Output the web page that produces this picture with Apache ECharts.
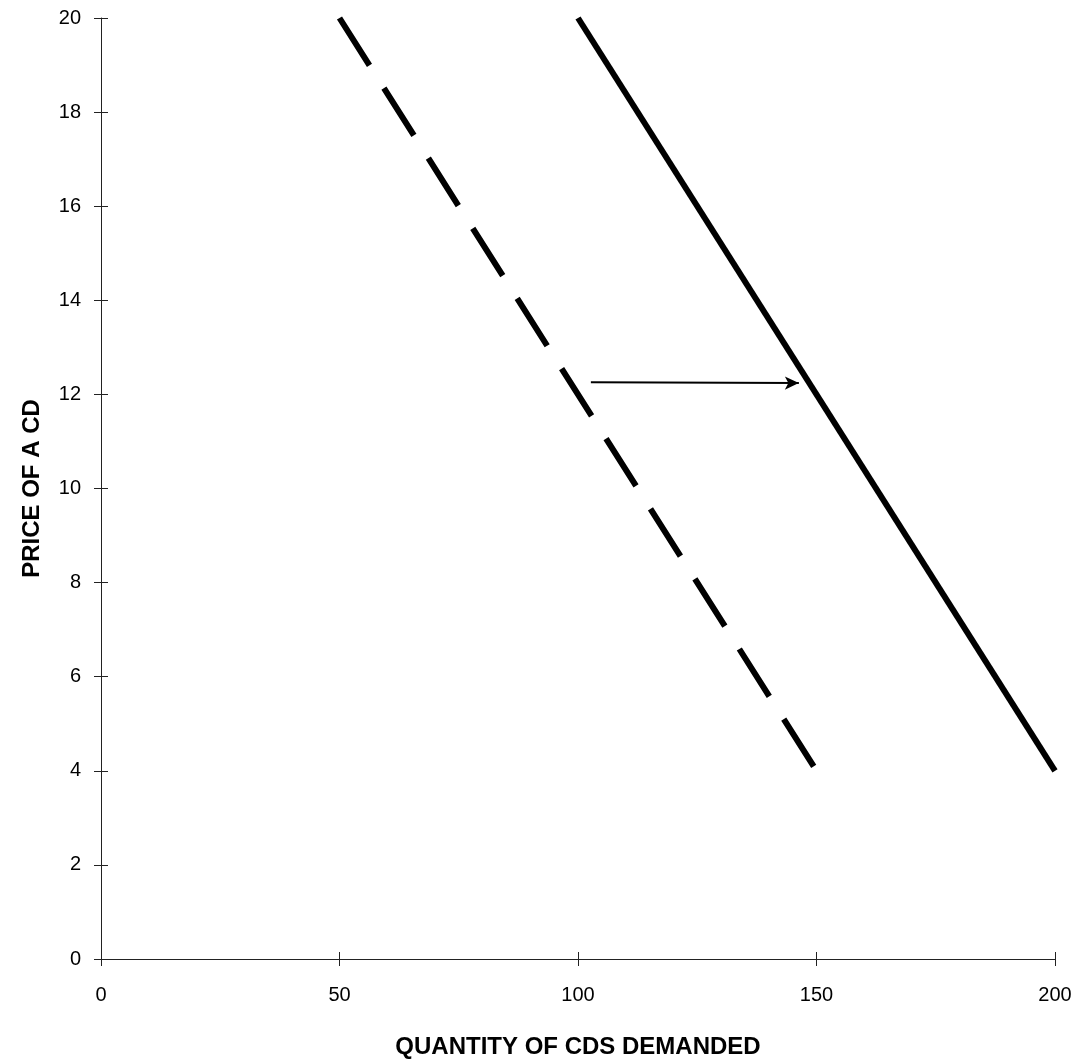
<!DOCTYPE html>
<html>
<head>
<meta charset="utf-8">
<script src="https://cdn.jsdelivr.net/npm/echarts@6/dist/echarts.min.js"></script>
<style>html,body{margin:0;padding:0;background:#fff}#c{width:1078px;height:1064px}</style>
</head>
<body>
<div id="c"></div>
<script>
var xTitle = 'QUANTITY OF CDS DEMANDED';
var yTitle = 'PRICE OF A CD';
var originalDemand = [[50, 20], [150, 4]];   // dashed
var newDemand = [[100, 20], [200, 4]];       // solid
var shiftArrow = [[102.7, 12.26], [146.3, 12.24]];

var chart = echarts.init(document.getElementById('c'), null, {renderer: 'canvas'});
var font = 'Liberation Sans, Arial, sans-serif';
var axisCol = '#222';
function xAx(main) {
  return {
    type: 'value', min: 0, max: 200, interval: 50, position: 'bottom',
    name: main ? xTitle : '', nameLocation: 'middle', nameGap: 76,
    nameTextStyle: {fontFamily: font, fontSize: 24, fontWeight: 'bold', color: '#000'},
    axisLine: {show: main, onZero: false, lineStyle: {color: axisCol, width: 1}},
    axisTick: {show: true, inside: !main, length: 7, lineStyle: {color: axisCol, width: 1}},
    axisLabel: {show: main, margin: 26, fontFamily: font, fontSize: 20, color: '#000'},
    splitLine: {show: false}
  };
}
function yAx(main) {
  return {
    type: 'value', min: 0, max: 20, interval: 2, position: 'left',
    name: main ? yTitle : '', nameLocation: 'middle', nameGap: 57, nameRotate: 90,
    nameTextStyle: {fontFamily: font, fontSize: 24, fontWeight: 'bold', color: '#000'},
    axisLine: {show: main, onZero: false, lineStyle: {color: axisCol, width: 1}},
    axisTick: {show: true, inside: !main, length: 7, lineStyle: {color: axisCol, width: 1}},
    axisLabel: {show: main, margin: 20, fontFamily: font, fontSize: 20, color: '#000'},
    splitLine: {show: false}
  };
}
chart.setOption({
  animation: false,
  backgroundColor: '#fff',
  grid: {left: 101, right: 23, top: 18, bottom: 105, containLabel: false},
  xAxis: [xAx(true), xAx(false)],
  yAxis: [yAx(true), yAx(false)],
  series: [
    {
      type: 'line', data: originalDemand, showSymbol: false, symbol: 'none', clip: false,
      lineStyle: {color: '#000', width: 6, type: [56, 27], cap: 'butt'}
    },
    {
      type: 'line', data: newDemand, showSymbol: false, symbol: 'none', clip: false,
      lineStyle: {color: '#000', width: 6, type: 'solid', cap: 'butt'},
      markLine: {
        silent: true, symbol: ['none', 'arrow'], symbolSize: [10, 14],
        label: {show: false},
        lineStyle: {color: '#000', width: 2, type: 'solid'},
        data: [[{coord: shiftArrow[0]}, {coord: shiftArrow[1]}]]
      }
    }
  ]
});
</script>
</body>
</html>
